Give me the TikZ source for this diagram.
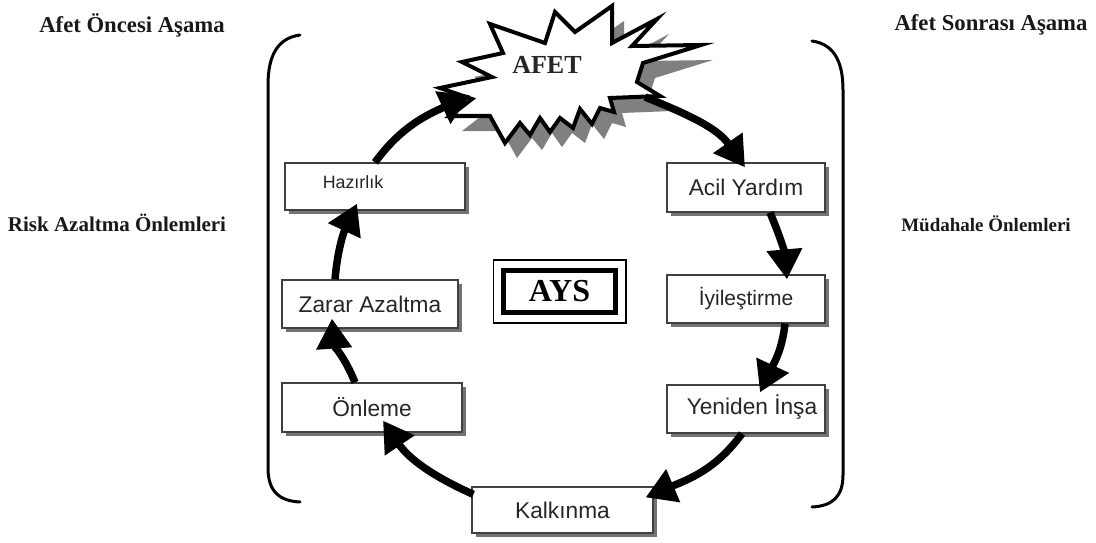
\documentclass[tikz,border=0pt]{standalone}
\usepackage{fontspec}
\setmainfont{Liberation Serif}
\newfontfamily\arialf{Liberation Sans}
\usetikzlibrary{arrows.meta,shadows}

% outline of the explosion shape around the central event
\newcommand\burstpath{(440,-88) -- (492,-77) -- (462,-62) -- (503,-53) -- (490,-24) -- (545,-43)
  -- (555,-12) -- (575,-32) -- (612,-6) -- (612,-43) -- (657,-19) -- (632,-46) -- (701,-45)
  -- (643,-63) -- (637,-82) -- (660,-96) -- (610,-98) -- (614,-112) -- (600,-108) -- (592,-124)
  -- (580,-109) -- (573,-128) -- (560,-118) -- (550,-132) -- (540,-118) -- (530,-135)
  -- (520,-123) -- (505,-143) -- (490,-116) -- (450,-116) -- (472,-99) -- cycle}

\tikzset{
  phasebox/.style={draw=black!75, line width=1.2pt, fill=white,
    drop shadow={shadow xshift=4pt, shadow yshift=-4pt, fill=black!55, opacity=1},
    font=\arialf\fontsize{22.7}{26}\selectfont, text=black!85, inner sep=0pt},
  heading/.style={font=\bfseries\fontsize{22.7}{26}\selectfont, text=black!90},
  cyclearrow/.style={line width=7.5pt, -{Triangle[length=30pt,width=34pt]}},
  bracket/.style={line width=3pt, line cap=round},
}

\begin{document}
\begin{tikzpicture}[x=1pt,y=1pt]
\useasboundingbox (0,0) rectangle (1096,-543);

% side headings
\node[heading] (pre) at (132,-25) {Afet Öncesi Aşama};
\node[heading] (post) at (991,-25) {Afet Sonrası Aşama};
\node[heading, font=\bfseries\fontsize{21}{24}\selectfont] (risk) at (117,-223) {Risk Azaltma Önlemleri};
\node[heading, font=\bfseries\fontsize{19}{22}\selectfont] (mud) at (986,-224) {Müdahale Önlemleri};

% brackets enclosing the cycle
\draw[bracket] (300,-35) .. controls (278,-38) and (268,-55) .. (268,-85) -- (268,-468)
  .. controls (268,-492) and (280,-501) .. (300,-502);
\draw[bracket] (812,-41) .. controls (833,-44) and (843,-60) .. (843,-90) -- (843,-475)
  .. controls (843,-496) and (833,-506) .. (812,-507);

% explosion with its shadow
\fill[black!50, shift={(12,-15)}] \burstpath;
\draw[line width=4pt, line join=miter, fill=white] \burstpath;
\node[font=\bfseries\fontsize{26}{30}\selectfont, text=black!85] (afet) at (547,-65) {AFET};

% phase boxes
\node[phasebox, minimum width=180pt, minimum height=47pt] (haz) at (375,-186.5) {};
\node[font=\arialf\fontsize{17.8}{20}\selectfont, text=black!85] (hazlbl) at (353,-182) {Hazırlık};
\node[phasebox, minimum width=176pt, minimum height=48pt] (zar) at (370,-304) {Zarar Azaltma};
\node[phasebox, minimum width=180pt, minimum height=49pt] (onl) at (372,-407.5) {Önleme};
\node[phasebox, minimum width=158pt, minimum height=49pt] (acil) at (746,-187.5) {Acil Yardım};
\node[phasebox, minimum width=158pt, minimum height=48pt, font=\arialf\fontsize{21}{24}\selectfont] (iyi) at (746,-299) {İyileştirme};
\node[phasebox, minimum width=158pt, minimum height=48pt] (yen) at (746,-409) {};
\node[font=\arialf\fontsize{22.7}{26}\selectfont, text=black!85] (yenlbl) at (752,-407) {Yeniden İnşa};
\node[phasebox, minimum width=181pt, minimum height=46pt] (kal) at (562.5,-510) {Kalkınma};

% central label with double frame
\node[draw, line width=5pt, minimum width=112pt, minimum height=42pt, inner sep=0pt,
  font=\bfseries\fontsize{32}{36}\selectfont] (ays) at (559.5,-291.5) {AYS};
\draw[line width=1.5pt] ([shift={(-66,31.5)}]ays.center) rectangle ([shift={(66.5,-31.5)}]ays.center);

% cycle arrows
\draw[cyclearrow] ([xshift=-35pt]zar.north) to[out=85,in=245] ([shift={(-18pt,7pt)}]haz.south);
\draw[cyclearrow] ([xshift=0pt]haz.north) to[out=54,in=205] ([shift={(-77pt,-30pt)}]afet.center);
\draw[cyclearrow] ([shift={(98pt,-32pt)}]afet.center) to[out=-22,in=125] ([shift={(-1pt,-5pt)}]acil.north);
\draw[cyclearrow] ([xshift=24pt]acil.south) to[out=-67,in=95] ([shift={(41pt,-5pt)}]iyi.north);
\draw[cyclearrow] ([xshift=39pt]iyi.south) to[out=-96,in=65] ([shift={(14pt,-8pt)}]yen.north);
\draw[cyclearrow] ([xshift=-4pt]yen.south) to[out=-126,in=23] ([shift={(-8pt,-11pt)}]kal.north east);
\draw[cyclearrow] ([shift={(2pt,-8pt)}]kal.north west) to[out=156,in=304] ([shift={(11pt,12pt)}]onl.south);
\draw[cyclearrow] ([xshift=-17pt]onl.north) to[out=112,in=274] ([shift={(-38pt,10pt)}]zar.south);
\end{tikzpicture}
\end{document}
